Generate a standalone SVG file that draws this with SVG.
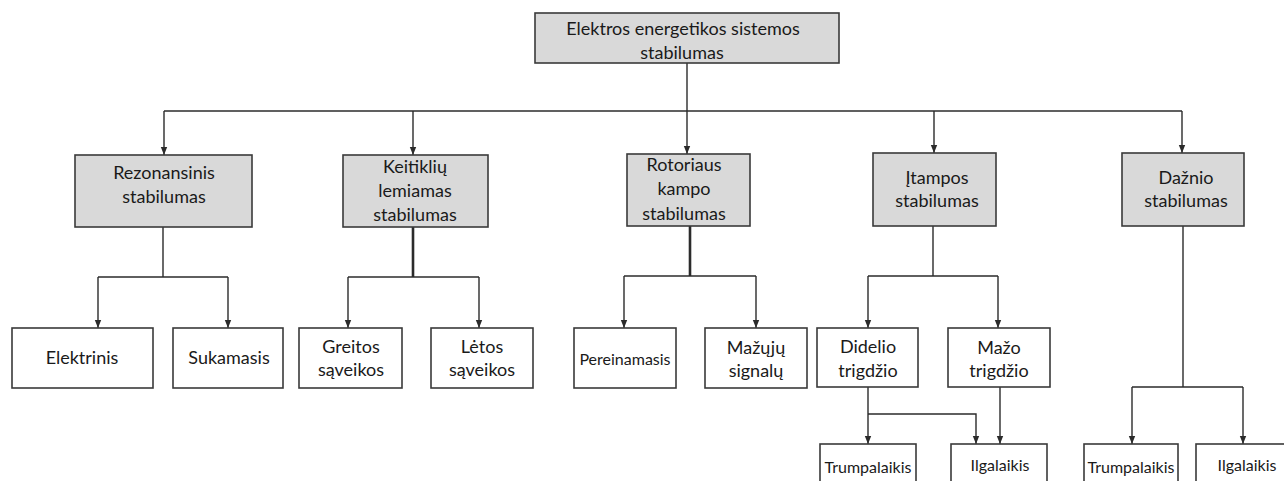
<svg xmlns="http://www.w3.org/2000/svg" width="1284" height="481" viewBox="0 0 1284 481">
<defs>
<marker id="arr" viewBox="0 0 8 8" refX="8" refY="4" markerWidth="8" markerHeight="8" markerUnits="userSpaceOnUse" orient="auto">
<path d="M0,0.8 L8,4 L0,7.2 Z" fill="#2b2b2b"/>
</marker>
<style>
.g{fill:#d9d9d9;stroke:#3a3a3a;stroke-width:1.6}
.w{fill:#ffffff;stroke:#3a3a3a;stroke-width:1.6}
text{font-family:Lato,"Open Sans","Liberation Sans",sans-serif;font-size:18px;fill:#1a1a1a;text-anchor:middle;dominant-baseline:central}
.s{font-size:16px}
.c path{fill:none;stroke:#2b2b2b;stroke-width:1.4}
.c .a{marker-end:url(#arr)}
.c .t{stroke-width:2.6}
</style>
</defs>
<rect width="1284" height="481" fill="#ffffff"/>
<g class="c" id="connectors">
<path d="M687,63 V111"/>
<path d="M164,111 H1182"/>
<path class="a" d="M164,111 V155"/>
<path class="a" d="M413,111 V155"/>
<path class="a" d="M687,111 V154"/>
<path class="a" d="M934,111 V153"/>
<path class="a" d="M1182,111 V153"/>
<path d="M163,227 V277 M98,277 H228"/>
<path class="a" d="M98,277 V328"/>
<path class="a" d="M228,277 V328"/>
<path class="t" d="M413,227 V277"/>
<path d="M348,277 H479"/>
<path class="a" d="M348,277 V328"/>
<path class="a" d="M479,277 V328"/>
<path class="t" d="M690,226 V276"/>
<path d="M624,276 H756"/>
<path class="a" d="M624,276 V328"/>
<path class="a" d="M756,276 V328"/>
<path d="M933,226 V276 M868,276 H998"/>
<path class="a" d="M868,276 V328"/>
<path class="a" d="M998,276 V328"/>
<path class="a" d="M868,387 V444"/>
<path class="a" d="M868,414 H976 V444"/>
<path class="a" d="M1000,387 V444"/>
<path d="M1183,226 V387 M1132,387 H1243"/>
<path class="a" d="M1132,387 V444"/>
<path class="a" d="M1243,387 V444"/>
</g>
<g id="root"><rect class="g" x="535" y="13" width="304" height="50"/><text x="683" y="28">Elektros energetikos sistemos</text><text x="682" y="52">stabilumas</text></g>
<g id="rezonansinis"><rect class="g" x="75" y="155" width="177" height="72"/><text x="164" y="172">Rezonansinis</text><text x="164" y="196">stabilumas</text></g>
<g id="keitikliu"><rect class="g" x="343" y="155" width="145" height="72"/><text x="415" y="166">Keitiklių</text><text x="415" y="190">lemiamas</text><text x="415" y="214">stabilumas</text></g>
<g id="rotoriaus"><rect class="g" x="627" y="154" width="123" height="72"/><text x="684" y="164">Rotoriaus</text><text x="684" y="188">kampo</text><text x="684" y="213">stabilumas</text></g>
<g id="itampos"><rect class="g" x="873" y="153" width="123" height="73"/><text x="937" y="177">Įtampos</text><text x="937" y="200">stabilumas</text></g>
<g id="daznio"><rect class="g" x="1122" y="153" width="122" height="73"/><text x="1186" y="177">Dažnio</text><text x="1186" y="200">stabilumas</text></g>
<g id="elektrinis"><rect class="w" x="12" y="328" width="141" height="60"/><text x="82" y="357">Elektrinis</text></g>
<g id="sukamasis"><rect class="w" x="173" y="328" width="110" height="60"/><text x="229" y="357">Sukamasis</text></g>
<g id="greitos"><rect class="w" x="299" y="328" width="103" height="60"/><text x="351" y="346">Greitos</text><text x="351" y="369">sąveikos</text></g>
<g id="letos"><rect class="w" x="431" y="328" width="102" height="60"/><text x="482" y="346">Lėtos</text><text x="482" y="369">sąveikos</text></g>
<g id="pereinamasis"><rect class="w" x="574" y="328" width="102" height="60"/><text class="s" x="625" y="358">Pereinamasis</text></g>
<g id="mazuju"><rect class="w" x="705" y="328" width="102" height="60"/><text x="756" y="347">Mažųjų</text><text x="756" y="370">signalų</text></g>
<g id="didelio"><rect class="w" x="817" y="328" width="101" height="59"/><text x="868" y="346">Didelio</text><text x="868" y="370">trigdžio</text></g>
<g id="mazo"><rect class="w" x="948" y="328" width="102" height="59"/><text x="999" y="347">Mažo</text><text x="999" y="370">trigdžio</text></g>
<g id="trumpalaikis1"><rect class="w" x="820" y="444" width="96" height="50"/><text class="s" x="868" y="466">Trumpalaikis</text></g>
<g id="ilgalaikis1"><rect class="w" x="951" y="444" width="96" height="50"/><text class="s" x="1000" y="464">Ilgalaikis</text></g>
<g id="trumpalaikis2"><rect class="w" x="1084" y="444" width="94" height="50"/><text class="s" x="1131" y="466">Trumpalaikis</text></g>
<g id="ilgalaikis2"><rect class="w" x="1196" y="444" width="100" height="50"/><text class="s" x="1247" y="464">Ilgalaikis</text></g>
</svg>
